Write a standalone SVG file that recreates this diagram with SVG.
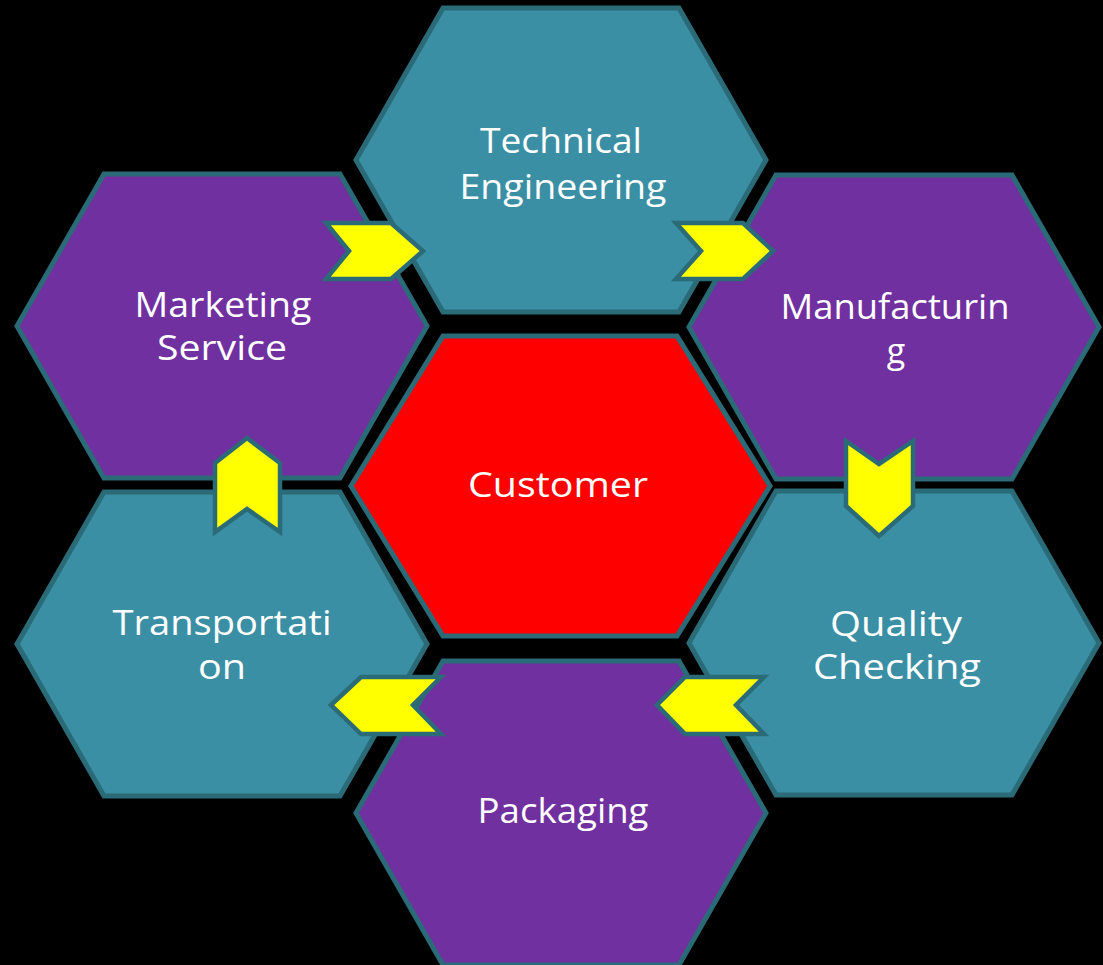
<svg xmlns="http://www.w3.org/2000/svg" width="1103" height="965" viewBox="0 0 1103 965">
<style>
.hex{stroke:#2a6b77;stroke-width:5;stroke-linejoin:miter}
.teal{fill:#3b8fa5}
.purple{fill:#7030a0}
.red{fill:#ff0000}
.chev{fill:#ffff00;stroke:#2a6b77;stroke-width:4.5;stroke-linejoin:miter}
.lbl{font-family:"Open Sans","Liberation Sans",sans-serif;font-size:34px;fill:#ffffff;text-anchor:middle}
</style>
<defs>
<polygon id="hx" points="-205,0 -118,-152 118,-152 205,0 118,152 -118,152"/>
</defs>
<rect x="0" y="0" width="1103" height="965" fill="#000000"/>
<g id="node-technical">
<use href="#hx" class="hex teal" transform="translate(561,160)"/>
<text class="lbl" x="561" y="153" textLength="162" lengthAdjust="spacingAndGlyphs">Technical</text>
<text class="lbl" x="563" y="199" textLength="207" lengthAdjust="spacingAndGlyphs">Engineering</text>
</g>
<g id="node-marketing">
<use href="#hx" class="hex purple" transform="translate(222,326)"/>
<text class="lbl" x="223" y="317" textLength="177" lengthAdjust="spacingAndGlyphs">Marketing</text>
<text class="lbl" x="222" y="360" textLength="130" lengthAdjust="spacingAndGlyphs">Service</text>
</g>
<g id="node-manufacturing">
<use href="#hx" class="hex purple" transform="translate(894,327)"/>
<text class="lbl" x="895" y="319" textLength="229" lengthAdjust="spacingAndGlyphs">Manufacturin</text>
<text class="lbl" x="896" y="363">g</text>
</g>
<g id="node-transportation">
<use href="#hx" class="hex teal" transform="translate(222,644)"/>
<text class="lbl" x="222" y="635" textLength="219" lengthAdjust="spacingAndGlyphs">Transportati</text>
<text class="lbl" x="222" y="679" textLength="48" lengthAdjust="spacingAndGlyphs">on</text>
</g>
<g id="node-quality">
<use href="#hx" class="hex teal" transform="translate(894,643)"/>
<text class="lbl" x="896" y="636" textLength="132" lengthAdjust="spacingAndGlyphs">Quality</text>
<text class="lbl" x="897" y="679" textLength="168" lengthAdjust="spacingAndGlyphs">Checking</text>
</g>
<g id="node-packaging">
<use href="#hx" class="hex purple" transform="translate(561,813)"/>
<text class="lbl" x="563" y="823" textLength="171" lengthAdjust="spacingAndGlyphs">Packaging</text>
</g>
<g id="node-customer">
<polygon class="hex red" points="351,486 443,336 677,336 770,486 677,636 443,636"/>
<text class="lbl" x="558" y="497" textLength="180" lengthAdjust="spacingAndGlyphs">Customer</text>
</g>
<g id="connectors">
<polygon class="chev" points="326,223 391,223 423,251 391,279 326,279 349,251"/>
<polygon class="chev" points="676,223 743,223 773,251 743,279 676,279 701,251"/>
<polygon class="chev" points="846,441 879,464 913,441 913,506 879,536 846,506"/>
<polygon class="chev" points="657,705 685,677 764,677 736,705 764,734 685,734"/>
<polygon class="chev" points="331,705 361,677 441,677 413,705 441,734 361,734"/>
<polygon class="chev" points="247,438 280,463 280,532 247,509 215,532 215,463"/>
</g>
</svg>
